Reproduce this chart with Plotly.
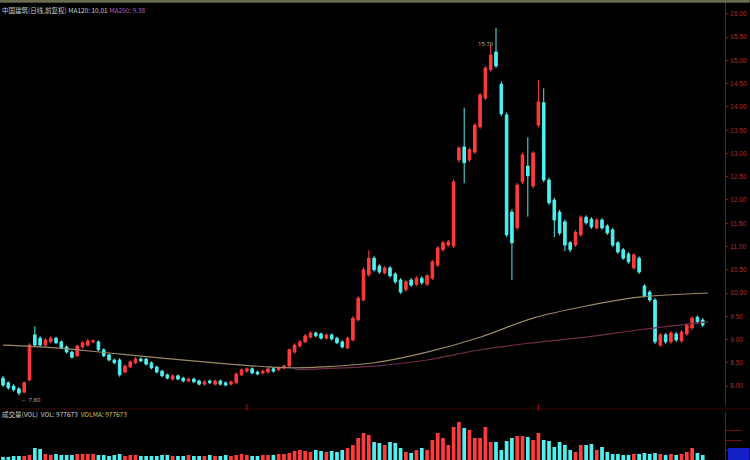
import plotly.graph_objects as go

# ---------------- data ----------------
opens = [8.17, 8.07, 8.00, 7.94, 7.87, 8.13, 9.10, 9.03, 8.88, 8.95,
         9.03, 8.95, 8.84, 8.73, 8.65, 8.84, 8.88, 8.95, 8.95, 8.78,
         8.67, 8.56, 8.56, 8.30, 8.41, 8.50, 8.58, 8.58, 8.50, 8.41,
         8.32, 8.24, 8.15, 8.22, 8.17, 8.11, 8.15, 8.11, 8.04, 8.11,
         8.04, 8.11, 8.07, 8.04, 8.07, 8.24, 8.32, 8.37, 8.30, 8.28,
         8.30, 8.37, 8.35, 8.39, 8.43, 8.73, 8.86, 8.95, 9.05, 9.14,
         9.12, 9.03, 9.10, 9.03, 8.95, 8.82, 8.99, 9.42, 9.85, 10.39,
         10.75, 10.58, 10.43, 10.54, 10.41, 10.28, 10.07, 10.28, 10.19, 10.32,
         10.19, 10.32, 10.60, 10.93, 11.03, 11.01, 12.86, 13.14, 12.86, 13.03,
         13.57, 14.19, 14.80, 15.18, 14.49, 13.83, 11.74, 11.40, 12.39, 12.73,
         12.30, 13.61, 14.09, 12.43, 12.00, 11.74, 11.53, 11.08, 11.03, 11.25,
         11.63, 11.59, 11.40, 11.57, 11.44, 11.36, 11.08, 10.93, 10.84, 10.54,
         10.75, 10.15, 10.02, 9.85, 8.88, 9.10, 8.95, 9.12, 8.97, 9.12,
         9.25, 9.48, 9.42]
closes = [8.02, 7.96, 7.92, 7.85, 8.07, 8.88, 8.88, 8.88, 8.99, 9.03,
          8.93, 8.82, 8.73, 8.62, 8.86, 8.93, 8.97, 8.97, 8.78, 8.65,
          8.56, 8.50, 8.24, 8.43, 8.52, 8.58, 8.54, 8.47, 8.39, 8.30,
          8.22, 8.17, 8.22, 8.15, 8.11, 8.15, 8.09, 8.04, 8.09, 8.07,
          8.11, 8.04, 8.02, 8.09, 8.26, 8.35, 8.37, 8.28, 8.26, 8.32,
          8.37, 8.32, 8.39, 8.43, 8.78, 8.88, 8.95, 9.08, 9.14, 9.08,
          9.03, 9.10, 9.01, 8.93, 8.84, 9.03, 9.46, 9.89, 10.50, 10.75,
          10.50, 10.45, 10.54, 10.37, 10.24, 10.02, 10.24, 10.17, 10.32, 10.22,
          10.37, 10.67, 10.97, 11.08, 11.10, 12.39, 13.12, 12.80, 13.08, 13.61,
          14.26, 14.84, 15.12, 14.88, 13.85, 11.25, 11.08, 12.32, 12.97, 12.52,
          13.01, 14.11, 12.43, 11.94, 11.57, 11.29, 11.03, 10.93, 11.31, 11.63,
          11.51, 11.42, 11.57, 11.40, 11.29, 11.03, 10.88, 10.75, 10.67, 10.82,
          10.45, 9.94, 9.85, 8.95, 9.10, 8.95, 9.14, 8.99, 9.16, 9.31,
          9.46, 9.38, 9.31]
highs = [8.22, 8.10, 8.04, 7.98, 8.10, 8.92, 9.28, 9.07, 9.03, 9.07,
         9.06, 8.98, 8.87, 8.76, 8.89, 8.97, 9.01, 9.00, 8.98, 8.81,
         8.70, 8.59, 8.60, 8.46, 8.55, 8.62, 8.62, 8.61, 8.53, 8.44,
         8.35, 8.27, 8.25, 8.25, 8.20, 8.18, 8.18, 8.14, 8.12, 8.14,
         8.14, 8.14, 8.10, 8.12, 8.29, 8.38, 8.40, 8.40, 8.33, 8.35,
         8.40, 8.40, 8.42, 8.46, 8.81, 8.92, 8.99, 9.12, 9.18, 9.17,
         9.15, 9.13, 9.13, 9.06, 8.98, 9.06, 9.50, 9.93, 10.55, 10.92,
         10.80, 10.62, 10.58, 10.58, 10.45, 10.32, 10.28, 10.32, 10.36, 10.36,
         10.41, 10.71, 11.01, 11.12, 11.14, 12.44, 13.16, 13.98, 13.12, 13.65,
         14.30, 14.88, 15.35, 15.70, 14.55, 13.88, 11.80, 12.37, 13.02, 13.35,
         13.05, 14.58, 14.40, 12.48, 12.05, 11.79, 11.58, 11.12, 11.35, 11.67,
         11.67, 11.63, 11.61, 11.61, 11.48, 11.40, 11.12, 10.97, 10.88, 10.86,
         10.79, 10.19, 10.06, 9.89, 9.14, 9.14, 9.18, 9.16, 9.20, 9.35,
         9.50, 9.52, 9.46]
lows = [7.98, 7.92, 7.88, 7.80, 7.84, 8.10, 8.84, 8.84, 8.85, 8.92,
        8.90, 8.79, 8.70, 8.59, 8.62, 8.81, 8.85, 8.92, 8.75, 8.62,
        8.53, 8.47, 8.20, 8.27, 8.38, 8.47, 8.51, 8.44, 8.36, 8.27,
        8.19, 8.14, 8.12, 8.12, 8.08, 8.08, 8.06, 8.01, 8.01, 8.04,
        8.01, 8.01, 7.99, 8.01, 8.04, 8.21, 8.29, 8.25, 8.23, 8.25,
        8.27, 8.29, 8.32, 8.36, 8.40, 8.70, 8.83, 8.92, 9.02, 9.05,
        9.00, 9.00, 8.98, 8.90, 8.81, 8.79, 8.96, 9.39, 9.82, 10.35,
        10.46, 10.41, 10.40, 10.33, 10.20, 9.98, 10.03, 10.13, 10.15, 10.18,
        10.15, 10.28, 10.56, 10.89, 10.99, 10.97, 12.80, 12.36, 12.82, 12.99,
        13.53, 14.15, 14.76, 14.84, 13.80, 11.20, 10.28, 11.35, 12.34, 11.64,
        12.25, 13.56, 12.38, 11.89, 11.20, 11.24, 10.90, 10.88, 10.99, 11.21,
        11.47, 11.38, 11.36, 11.36, 11.25, 10.99, 10.84, 10.71, 10.63, 10.50,
        10.41, 9.90, 9.81, 8.90, 8.84, 8.91, 8.91, 8.95, 8.93, 9.08,
        9.21, 9.34, 9.27]
volumes = [30, 30, 40, 40, 40, 50, 120, 110, 60, 50,
           60, 50, 50, 50, 60, 60, 60, 60, 50, 50,
           40, 50, 60, 40, 50, 50, 40, 40, 40, 40,
           50, 50, 40, 40, 40, 50, 40, 40, 40, 50,
           40, 40, 50, 40, 50, 60, 50, 40, 40, 50,
           50, 50, 60, 60, 70, 90, 100, 90, 80, 100,
           90, 80, 90, 80, 100, 120, 150, 220, 270, 250,
           180, 170, 150, 180, 170, 120, 80, 70, 100, 120,
           100, 200, 270, 220, 150, 330, 380, 320, 300, 220,
           220, 330, 180, 180, 100, 190, 220, 240, 240, 230,
           200, 270, 200, 190, 130, 180, 150, 100, 80, 150,
           150, 160, 100, 130, 80, 60, 60, 50, 50, 60,
           60, 70, 60, 70, 60, 50, 60, 50, 60, 80,
           120, 70, 50]

ma_long_idx = [0, 10, 20, 30, 40, 50, 55, 60, 70, 80, 90, 100, 110, 120, 133]
ma_long = [8.88, 8.82, 8.71, 8.60, 8.50, 8.41, 8.39, 8.41, 8.50, 8.73,
           9.05, 9.46, 9.72, 9.91, 10.00]
ma_mid_idx = [55, 60, 70, 80, 90, 100, 110, 120, 133]
ma_mid = [8.35, 8.37, 8.43, 8.56, 8.78, 8.93, 9.05, 9.21, 9.38]

price_ticks = [16.0, 15.5, 15.0, 14.5, 14.0, 13.5, 13.0, 12.5, 12.0,
               11.5, 11.0, 10.5, 10.0, 9.5, 9.0, 8.5, 8.0]
vol_ticks = [100, 200, 300]

# ---------------- styling ----------------
RED = "#ff3b3b"
CYAN = "#4ff0f0"
AXIS_RED = "#8a1010"
LABEL_RED = "#b03030"

idx = list(range(len(closes)))
vol_colors = [RED if c >= o else CYAN for o, c in zip(opens, closes)]

fig = go.Figure()

fig.add_trace(go.Scatter(
    x=ma_long_idx, y=ma_long, mode="lines", line=dict(color="#9c8a66", width=1.2, shape="spline"),
    hoverinfo="skip", showlegend=False))
fig.add_trace(go.Scatter(
    x=ma_mid_idx, y=ma_mid, mode="lines", line=dict(color="#6e2c4c", width=1.2, shape="spline"),
    hoverinfo="skip", showlegend=False))

fig.add_trace(go.Candlestick(
    x=idx, open=opens, high=highs, low=lows, close=closes,
    increasing=dict(line=dict(color=RED, width=1), fillcolor=RED),
    decreasing=dict(line=dict(color=CYAN, width=1), fillcolor=CYAN),
    whiskerwidth=0, showlegend=False))

fig.add_trace(go.Bar(
    x=idx, y=volumes, marker=dict(color=vol_colors, line=dict(width=0)),
    width=0.7, yaxis="y2", showlegend=False))

# max/min price labels
imax = max(idx, key=lambda i: highs[i])
imin = min(idx, key=lambda i: lows[i])
fig.add_annotation(x=imax, y=highs[imax], text=f"{highs[imax]:.2f}", showarrow=False,
                   xanchor="right", yanchor="top", yshift=-10, font=dict(size=6, color="#bbbbbb"))
fig.add_annotation(x=imin, y=lows[imin], text=f"← {lows[imin]:.2f}", showarrow=False,
                   xanchor="left", yanchor="top", yshift=1, font=dict(size=6, color="#bbbbbb"))

# header text
fig.add_annotation(xref="paper", yref="paper", x=0.0, y=0.993, xanchor="left", yanchor="top",
                   showarrow=False, font=dict(size=6.5, color="#cfcfcf", family="Noto Sans CJK SC"),
                   text="中国建筑(日线,前复权) MA120: 10.01 <span style='color:#b060c0'>MA250: 9.38</span>")
fig.add_annotation(xref="paper", yref="paper", x=0.0, y=0.085, xanchor="left", yanchor="bottom",
                   showarrow=False, font=dict(size=6.5, color="#cfcfcf", family="Noto Sans CJK SC"),
                   text="成交量(VOL)  VOL: 977673  <span style='color:#d8c050'>VOLMA: 977673</span>")

# top strip, separator, bottom-right box
fig.add_shape(type="rect", xref="paper", yref="paper", x0=0, x1=1.034, y0=0.994, y1=1.0,
              fillcolor="#6a6a50", line=dict(width=0), layer="above")
fig.add_shape(type="line", xref="paper", yref="paper", x0=0, x1=1.034, y0=0.111, y1=0.111,
              line=dict(color="#3a0808", width=1))
fig.add_shape(type="rect", xref="paper", yref="paper", x0=1.004, x1=1.034, y0=0.0, y1=0.026,
              fillcolor="#1420c8", line=dict(width=0))
for xi in [46, 101]:
    fig.add_shape(type="line", x0=xi, x1=xi, xref="x", yref="paper", y0=0.107, y1=0.122,
                  line=dict(color="#a01818", width=1))

fig.update_layout(
    width=750, height=460, autosize=False,
    margin=dict(l=0, r=25, t=0, b=0),
    paper_bgcolor="black", plot_bgcolor="black",
    showlegend=False, hovermode=False,
    xaxis=dict(range=[-0.57, 136.2], visible=False, rangeslider=dict(visible=False), fixedrange=True),
    yaxis=dict(domain=[0.1196, 1.0], range=[7.5925, 16.3], side="right",
               tickvals=price_ticks, ticktext=[f"{v:.2f}" for v in price_ticks],
               tickfont=dict(size=6.5, color=LABEL_RED, family="Liberation Sans"),
               showgrid=False, zeroline=False, showline=True, linecolor=AXIS_RED, linewidth=1,
               ticks="outside", ticklen=2, tickcolor=AXIS_RED, ticklabelstandoff=1),
    yaxis2=dict(domain=[0.0, 0.1043], range=[0, 480], side="right", anchor="x",
                tickvals=vol_ticks, ticktext=["" for _ in vol_ticks],
                showgrid=False, zeroline=False, showline=True, linecolor=AXIS_RED, linewidth=1,
                ticks="outside", ticklen=16, tickcolor="#701010"),
)

fig.write_html("out.html", config={"displayModeBar": False},
               post_script="document.body.style.margin='0px';document.body.style.overflow='hidden';")
